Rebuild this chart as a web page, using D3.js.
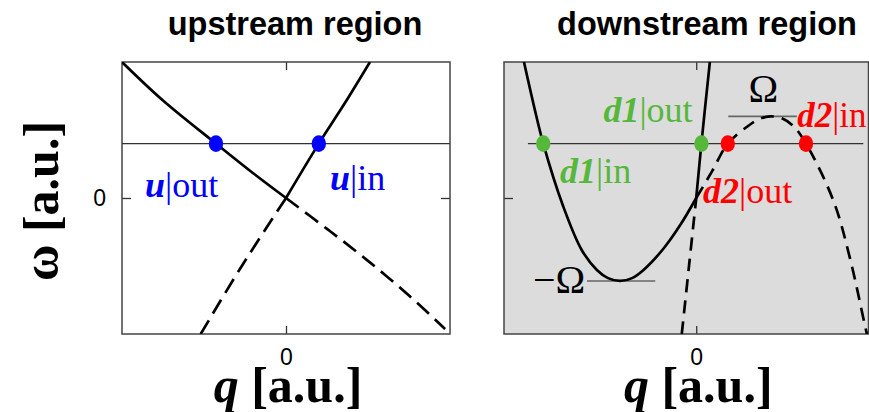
<!DOCTYPE html>
<html>
<head>
<meta charset="utf-8">
<script src="https://cdn.jsdelivr.net/npm/d3@7"></script>
<style>
  body { margin: 0; background: #fff; }
  svg { display: block; }
</style>
</head>
<body>
<svg id="fig" width="869" height="412"></svg>
<script>
// ---- values ----
const tickValues = [0];
const tickLabels = ["0"];
const panelTitles = ["upstream region", "downstream region"];
const axisLabelUnit = "[a.u.]";

// frequency of the incoming wave (horizontal line)
const probeOmega = 0.40;
// extrema of the downstream branch
const omegaMax = 0.60;
const omegaMin = -0.61;

// upstream: counter-propagating branch (u|out)
const upOutQ = [-1.0, -0.75, -0.427, -0.2, 0, 0.25, 0.5, 0.75, 0.97];
const upOutW = [1.0, 0.717, 0.40, 0.182, 0, -0.227, -0.462, -0.717, -0.964];
// upstream: co-propagating branch (u|in)
const upInQ = [-0.52, -0.28, 0, 0.20, 0.36, 0.512];
const upInW = [-1.0, -0.52, 0, 0.40, 0.70, 1.0];

// downstream: dragged branch (d1|in, d2|out, d2|in)
const dnAQ = [-1.0, -0.942, -0.888, -0.773, -0.665, -0.577, -0.512, -0.442, -0.372, -0.306, -0.192, -0.093, 0,
              0.093, 0.183, 0.297, 0.366, 0.43, 0.50, 0.564, 0.637, 0.797, 0.895, 0.988, 1.012];
const dnAW = [1.0, 0.676, 0.40, -0.059, -0.382, -0.529, -0.589, -0.61, -0.589, -0.529, -0.375, -0.199, 0,
              0.199, 0.40, 0.526, 0.581, 0.60, 0.585, 0.529, 0.40, -0.022, -0.456, -0.985, -1.10];
// downstream: steep branch (d1|out)
const dnBQ = [-0.084, -0.042, 0, 0.030, 0.079];
const dnBW = [-1.0, -0.5, 0, 0.40, 1.0];

// crossing points with the probe frequency
const upDotQ = [-0.427, 0.20];
const dnGreenQ = [-0.888, 0.030];
const dnRedQ = [0.183, 0.637];

const blue = "#0000ff", green = "#55b83b", red = "#ff0000";
const serif = "'Liberation Serif', 'Times New Roman', serif";
const sans = "'Liberation Sans', Arial, sans-serif";

const svg = d3.select("#fig");

function zip(qs, ws) { return qs.map((q, i) => ({ q, w: ws[i] })); }

function makePanel(cfg) {
  const x = d3.scaleLinear().domain(cfg.qDomain).range([cfg.left, cfg.right]);
  const y = d3.scaleLinear().domain([-1, 1]).range([cfg.bottom, cfg.top]);
  const g = svg.append("g");
  const clipId = "clip-" + cfg.id;
  svg.append("clipPath").attr("id", clipId).append("rect")
    .attr("x", cfg.left).attr("y", cfg.top)
    .attr("width", cfg.right - cfg.left).attr("height", cfg.bottom - cfg.top);

  g.append("rect")
    .attr("x", cfg.left).attr("y", cfg.top)
    .attr("width", cfg.right - cfg.left).attr("height", cfg.bottom - cfg.top)
    .attr("fill", cfg.bg);

  const axStyle = sel => {
    sel.select(".domain").remove();
    sel.attr("font-size", 23).attr("font-family", sans);
    sel.selectAll("line").attr("stroke", "#333").attr("stroke-width", 1.3);
    sel.selectAll("text").attr("fill", "#000");
  };
  g.append("g").attr("transform", `translate(0,${cfg.bottom})`)
    .call(d3.axisBottom(x).tickValues(tickValues).tickFormat((d, i) => tickLabels[i])
      .tickSizeInner(-8).tickSizeOuter(0).tickPadding(15)).call(axStyle);
  g.append("g").attr("transform", `translate(0,${cfg.top})`)
    .call(d3.axisTop(x).tickValues(tickValues).tickFormat("")
      .tickSizeInner(-8).tickSizeOuter(0)).call(axStyle);
  g.append("g").attr("transform", `translate(${cfg.left},0)`)
    .call(d3.axisLeft(y).tickValues(tickValues).tickFormat((d, i) => cfg.yLabels ? tickLabels[i] : "")
      .tickSizeInner(-9).tickSizeOuter(0).tickPadding(16)).call(axStyle);
  if (cfg.rightTick) {
    g.append("g").attr("transform", `translate(${cfg.right},0)`)
      .call(d3.axisRight(y).tickValues(tickValues).tickFormat("")
        .tickSizeInner(-9).tickSizeOuter(0)).call(axStyle);
  }

  g.append("rect")
    .attr("x", cfg.left).attr("y", cfg.top)
    .attr("width", cfg.right - cfg.left).attr("height", cfg.bottom - cfg.top)
    .attr("fill", "none").attr("stroke", "#444").attr("stroke-width", 1.5);

  const plot = g.append("g").attr("clip-path", `url(#${clipId})`);
  return { x, y, g, plot };
}

function branch(p, pts, solidTest, dash) {
  const line = d3.line().x(d => p.x(d.q)).y(d => p.y(d.w)).curve(d3.curveCatmullRom.alpha(0.5));
  const solid = pts.filter(d => solidTest(d.q));
  const dashed = pts.filter(d => !solidTest(d.q) || d.q === 0);
  p.plot.append("path").attr("d", line(solid)).attr("fill", "none")
    .attr("stroke", "#000").attr("stroke-width", 2.7);
  p.plot.append("path").attr("d", line(dashed)).attr("fill", "none")
    .attr("stroke", "#000").attr("stroke-width", 2.7).attr("stroke-dasharray", dash);
}

function dots(p, qs, color) {
  p.plot.selectAll(null).data(qs).enter().append("ellipse")
    .attr("cx", d => p.x(d)).attr("cy", p.y(probeOmega))
    .attr("rx", 7.2).attr("ry", 8.3).attr("fill", color);
}

function label(p, q, w, main, rest, color, size) {
  const t = p.g.append("text").attr("x", p.x(q)).attr("y", p.y(w))
    .attr("font-family", serif).attr("font-size", size || 36).attr("fill", color);
  t.append("tspan").attr("font-weight", "bold").attr("font-style", "italic").text(main);
  t.append("tspan").text(rest);
}

// ---- upstream panel ----
const up = makePanel({ id: "up", qDomain: [-1, 1], left: 122, right: 450, top: 62, bottom: 334,
                       bg: "#fff", yLabels: true, rightTick: true });
up.plot.append("line")
  .attr("x1", up.x(-1)).attr("x2", up.x(1))
  .attr("y1", up.y(probeOmega)).attr("y2", up.y(probeOmega))
  .attr("stroke", "#333").attr("stroke-width", 1.3);
branch(up, zip(upOutQ, upOutW), q => q <= 0, "16,8");
branch(up, zip(upInQ, upInW), q => q >= 0, "16,8");
dots(up, upDotQ, blue);
label(up, -0.86, 0.01, "u", "|out", blue);
label(up, 0.268, 0.059, "u", "|in", blue);

// ---- downstream panel ----
const dn = makePanel({ id: "dn", qDomain: [-1.116, 1], left: 504, right: 868.5, top: 62, bottom: 334,
                       bg: "#dcdcdc", yLabels: false, rightTick: false });
dn.plot.append("line")
  .attr("x1", dn.x(-0.977)).attr("x2", dn.x(0.97))
  .attr("y1", dn.y(probeOmega)).attr("y2", dn.y(probeOmega))
  .attr("stroke", "#333").attr("stroke-width", 1.3);
// extremum markers
dn.plot.append("line").attr("x1", dn.x(0.186)).attr("x2", dn.x(0.584))
  .attr("y1", dn.y(omegaMax)).attr("y2", dn.y(omegaMax))
  .attr("stroke", "#666").attr("stroke-width", 1.6);
dn.plot.append("line").attr("x1", dn.x(-0.634)).attr("x2", dn.x(-0.238))
  .attr("y1", dn.y(omegaMin)).attr("y2", dn.y(omegaMin))
  .attr("stroke", "#666").attr("stroke-width", 1.6);
branch(dn, zip(dnAQ, dnAW), q => q <= 0, "13,8");
branch(dn, zip(dnBQ, dnBW), q => q >= 0, "13,8");
dots(dn, dnGreenQ, green);
dots(dn, dnRedQ, red);
label(dn, -0.539, 0.561, "d1", "|out", green);
label(dn, -0.791, 0.1125, "d1", "|in", green);
label(dn, 0.039, -0.039, "d2", "|out", red);
label(dn, 0.587, 0.524, "d2", "|in", red, 35);
dn.g.append("text").attr("x", dn.x(0.39)).attr("y", dn.y(0.708))
  .attr("text-anchor", "middle").attr("font-family", serif).attr("font-size", 40).text("Ω");
dn.g.append("text").attr("x", dn.x(-0.948)).attr("y", dn.y(-0.696))
  .attr("font-family", serif).attr("font-size", 40).text("−Ω");

// ---- titles ----
svg.append("text").attr("x", 295).attr("y", 35).attr("text-anchor", "middle")
  .attr("font-family", sans).attr("font-weight", "bold").attr("font-size", 32.5).text(panelTitles[0]);
svg.append("text").attr("x", 707).attr("y", 35).attr("text-anchor", "middle")
  .attr("font-family", sans).attr("font-weight", "bold").attr("font-size", 32.5).text(panelTitles[1]);

// ---- axis labels ----
[up, dn].forEach(p => {
  const t = svg.append("text").attr("x", p.x(0) + 2).attr("y", 402).attr("text-anchor", "middle")
    .attr("font-family", serif).attr("font-weight", "bold").attr("font-size", 50);
  t.append("tspan").attr("font-style", "italic").text("q");
  t.append("tspan").text(" " + axisLabelUnit);
});
const yl = svg.append("text").attr("transform", "translate(58,201) rotate(-90)")
  .attr("text-anchor", "middle").attr("font-family", serif).attr("font-weight", "bold").attr("font-size", 50);
yl.append("tspan").text("ω  " + axisLabelUnit);
</script>
</body>
</html>
